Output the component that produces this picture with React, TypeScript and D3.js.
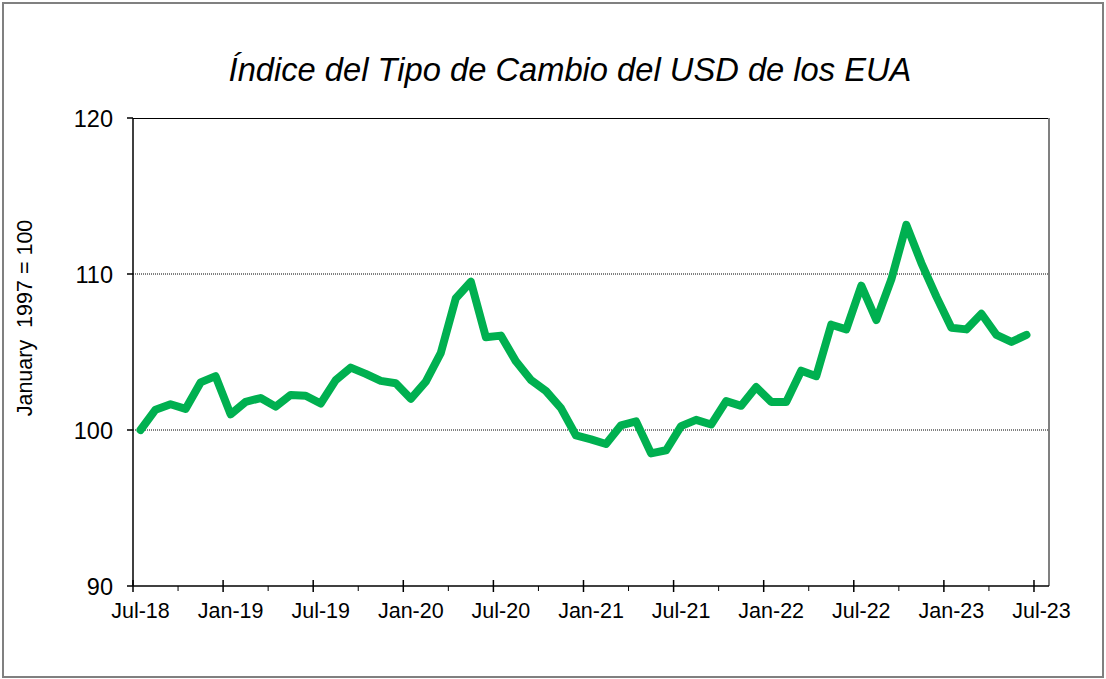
import React from "react";
import * as d3 from "d3";

// Índice del tipo de cambio del USD, enero 1997 = 100 (jul-18 .. jun-23, mensual)
const startMonth = new Date(2018, 6, 1);
const months = d3.timeMonth.range(startMonth, new Date(2023, 6, 1));

const indexValues = [
  100.0, 101.3, 101.65, 101.35, 103.05, 103.45,
  101.0, 101.8, 102.05, 101.5, 102.25, 102.2, 101.7, 103.2, 104.0, 103.6, 103.15, 103.0,
  102.0, 103.1, 104.95, 108.45, 109.5, 105.95, 106.05, 104.4, 103.2, 102.5, 101.4, 99.65,
  99.4, 99.1, 100.3, 100.55, 98.5, 98.7, 100.25, 100.65, 100.35, 101.85, 101.55, 102.75,
  101.8, 101.8, 103.8, 103.45, 106.75, 106.45, 109.25, 107.05, 109.65, 113.15, 110.7, 108.55,
  106.55, 106.45, 107.45, 106.1, 105.65, 106.1,
];

const xTickLabels = [
  "Jul-18", "Jan-19", "Jul-19", "Jan-20", "Jul-20", "Jan-21",
  "Jul-21", "Jan-22", "Jul-22", "Jan-23", "Jul-23",
];
const yTicks = [90, 100, 110, 120];
const gridValues = [100, 110];

const title = "Índice del Tipo de Cambio del USD de los EUA";
const yTitle = "January  1997 = 100";

const W = 1106;
const H = 679;
const left = 133;
const right = 1049;
const top = 118;
const bottom = 586;
const font = "'Liberation Sans', Arial, sans-serif";

export default function App() {
  const totalMonths = d3.timeMonth.count(startMonth, new Date(2023, 7, 1));
  const x = d3.scaleLinear().domain([0, totalMonths]).range([left, right]);
  const y = d3.scaleLinear().domain([90, 120]).range([bottom, top]);

  const data = months.map((m, i) => ({ i: d3.timeMonth.count(startMonth, m), v: indexValues[i] }));

  const line = d3
    .line<{ i: number; v: number }>()
    .x(d => x(d.i + 0.5))
    .y(d => y(d.v));

  const majorTicks = xTickLabels.map((_, k) => k * 6);
  const minorTicks = d3.range(3, totalMonths, 6);

  return (
    <svg
      width={W}
      height={H}
      style={{ position: "fixed", left: 0, top: 0, background: "#fff" }}
    >
      <rect x={3} y={3} width={1100} height={674} fill="#fff" stroke="#808080" strokeWidth={2} />

      <text
        x={570}
        y={81}
        textAnchor="middle"
        fontFamily={font}
        fontStyle="italic"
        fontSize={32.7}
        fill="#000"
      >
        {title}
      </text>

      {/* gridlines */}
      {gridValues.map(g => (
        <line
          key={g}
          x1={left}
          x2={right}
          y1={y(g)}
          y2={y(g)}
          stroke="#000"
          strokeWidth={1}
          strokeDasharray="1,1"
        />
      ))}

      {/* plot frame */}
      <line x1={left} x2={right} y1={top + 0.5} y2={top + 0.5} stroke="#000" strokeWidth={1} />
      <line x1={right} x2={right} y1={top} y2={bottom} stroke="#808080" strokeWidth={2} />

      {/* y axis */}
      <line x1={left} x2={left} y1={top} y2={bottom} stroke="#000" strokeWidth={1.5} />
      {yTicks.map(t => (
        <g key={t}>
          <line x1={left - 6} x2={left} y1={y(t)} y2={y(t)} stroke="#000" strokeWidth={1.5} />
          <text
            x={113}
            y={y(t) + 8.5}
            textAnchor="end"
            fontFamily={font}
            fontSize={23.5}
            fill="#000"
          >
            {t}
          </text>
        </g>
      ))}

      {/* x axis */}
      <line x1={left} x2={right} y1={bottom} y2={bottom} stroke="#000" strokeWidth={1.5} />
      {majorTicks.map((t, k) => (
        <g key={t}>
          <line x1={x(t)} x2={x(t)} y1={bottom - 6} y2={bottom + 6} stroke="#000" strokeWidth={1.5} />
          <text
            x={x(t + 0.5)}
            y={618}
            textAnchor="middle"
            fontFamily={font}
            fontSize={21.5}
            fill="#000"
          >
            {xTickLabels[k]}
          </text>
        </g>
      ))}
      {minorTicks.map(t => (
        <line key={t} x1={x(t)} x2={x(t)} y1={bottom} y2={bottom + 5} stroke="#000" strokeWidth={1} />
      ))}

      <text
        transform={`translate(32, 318) rotate(-90)`}
        textAnchor="middle"
        fontFamily={font}
        fontSize={21.5}
        fill="#000"
        style={{ whiteSpace: "pre" }}
      >
        {yTitle}
      </text>

      <path
        d={line(data) ?? ""}
        fill="none"
        stroke="#00B050"
        strokeWidth={8}
        strokeLinejoin="round"
        strokeLinecap="round"
      />
    </svg>
  );
}
